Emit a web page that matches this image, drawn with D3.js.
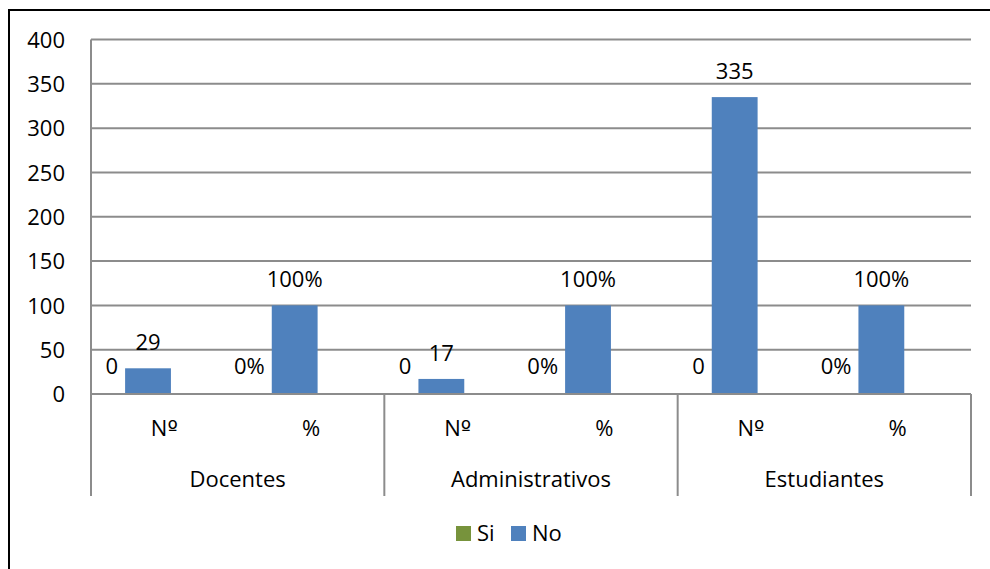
<!DOCTYPE html>
<html>
<head>
<meta charset="utf-8">
<script src="https://cdn.jsdelivr.net/npm/d3@7"></script>
<style>
  html, body { margin: 0; padding: 0; background: #fff; }
  svg text { font-family: "Open Sans", Lato, sans-serif; fill: #000; }
  svg tspan.ord { font-family: "DejaVu Sans", sans-serif; }
</style>
</head>
<body>
<svg id="chart" width="990" height="569"></svg>
<script>
// Survey answers (Si / No) per staff group, as count and percentage
const groups = ["Docentes", "Administrativos", "Estudiantes"];
const measures = ["Nº", "%"];
const series = ["Si", "No"];
const siValues = [0, 0, 0, 0, 0, 0];
const noValues = [29, 100, 17, 100, 335, 100];
const siLabels = ["0", "0%", "0", "0%", "0", "0%"];
const noLabels = ["29", "100%", "17", "100%", "335", "100%"];
const yTicks = [0, 50, 100, 150, 200, 250, 300, 350, 400];
const colors = { Si: "#77933C", No: "#4F81BD" };

const svg = d3.select("#chart");
const plot = { left: 91, right: 971, top: 39.5, bottom: 394 };
const fontSize = 22;
const gridColor = "#8c8c8c";

// outer frame (left and top edges visible)
svg.append("path")
  .attr("d", "M9,569 V10 H990")
  .attr("fill", "none").attr("stroke", "#000").attr("stroke-width", 2);

// one slot per group/measure pair
const slots = [];
groups.forEach((g, gi) => measures.forEach((m, mi) => slots.push({ group: g, measure: m, i: gi * measures.length + mi })));

const x = d3.scaleBand().domain(slots.map(d => d.i)).range([plot.left, plot.right]).padding(0);
const xGroup = d3.scaleBand().domain(groups).range([plot.left, plot.right]).padding(0);
const slotW = x.bandwidth();
const xSeries = d3.scaleBand().domain(series).range([-0.08 * slotW, 0.545 * slotW]).padding(0);
const y = d3.scaleLinear().domain([0, 400]).range([plot.bottom, plot.top]);

// horizontal gridlines
svg.append("g").selectAll("line").data(yTicks.filter(t => t > 0)).join("line")
  .attr("x1", plot.left).attr("x2", plot.right)
  .attr("y1", d => y(d)).attr("y2", d => y(d))
  .attr("stroke", gridColor).attr("stroke-width", 2);

// y axis labels
const yAxis = d3.axisLeft(y).tickValues(yTicks).tickSize(0).tickPadding(26);
const yg = svg.append("g").attr("transform", `translate(${plot.left},0)`).call(yAxis);
yg.select(".domain").remove();
yg.selectAll("text").style("font-size", fontSize + "px").attr("dy", "0.35em");

// bars
const barData = [];
slots.forEach(s => {
  barData.push({ slot: s.i, key: "Si", value: siValues[s.i], label: siLabels[s.i] });
  barData.push({ slot: s.i, key: "No", value: noValues[s.i], label: noLabels[s.i] });
});
svg.append("g").selectAll("rect").data(barData).join("rect")
  .attr("x", d => x(d.slot) + xSeries(d.key))
  .attr("width", xSeries.bandwidth())
  .attr("y", d => y(d.value))
  .attr("height", d => y(0) - y(d.value))
  .attr("fill", d => colors[d.key]);

// value labels
svg.append("g").selectAll("text").data(barData).join("text")
  .attr("x", d => d.key === "No"
    ? x(d.slot) + xSeries(d.key) + xSeries.bandwidth() / 2
    : x(d.slot) + xSeries(d.key) + xSeries.bandwidth() - 7)
  .attr("y", d => d.key === "No" ? y(d.value) - 18 : y(0) - 20)
  .attr("text-anchor", d => d.key === "No" ? "middle" : "end")
  .style("font-size", fontSize + "px")
  .text(d => d.label);

// category axis: baseline, group separators, labels
svg.append("line")
  .attr("x1", plot.left).attr("x2", plot.right)
  .attr("y1", y(0)).attr("y2", y(0))
  .attr("stroke", gridColor).attr("stroke-width", 2);
svg.append("line")
  .attr("x1", plot.left).attr("x2", plot.left)
  .attr("y1", plot.top).attr("y2", 496)
  .attr("stroke", gridColor).attr("stroke-width", 2);
svg.append("g").selectAll("line").data(groups).join("line")
  .attr("x1", d => xGroup(d) + xGroup.bandwidth()).attr("x2", d => xGroup(d) + xGroup.bandwidth())
  .attr("y1", y(0)).attr("y2", 496)
  .attr("stroke", gridColor).attr("stroke-width", 2);

// measure labels; the ordinal sign uses a face whose º carries the underline
svg.append("g").selectAll("text").data(slots).join("text")
  .attr("x", d => x(d.i) + slotW / 2)
  .attr("y", 436)
  .attr("text-anchor", "middle")
  .style("font-size", fontSize + "px")
  .each(function (d) {
    const t = d3.select(this);
    d.measure.split(/(º)/).filter(p => p).forEach(p => {
      t.append("tspan").attr("class", p === "º" ? "ord" : null).text(p);
    });
  });

svg.append("g").selectAll("text").data(groups).join("text")
  .attr("x", d => xGroup(d) + xGroup.bandwidth() / 2)
  .attr("y", 487)
  .attr("text-anchor", "middle")
  .style("font-size", fontSize + "px")
  .text(d => d);

// legend
const legend = svg.append("g").attr("transform", "translate(456,526)");
const legendX = { Si: 0, No: 55 };
series.forEach(s => {
  const g = legend.append("g").attr("transform", `translate(${legendX[s]},0)`);
  g.append("rect").attr("width", 15).attr("height", 15).attr("fill", colors[s]);
  g.append("text").attr("x", 21).attr("y", 15).style("font-size", fontSize + "px").text(s);
});
</script>
</body>
</html>
